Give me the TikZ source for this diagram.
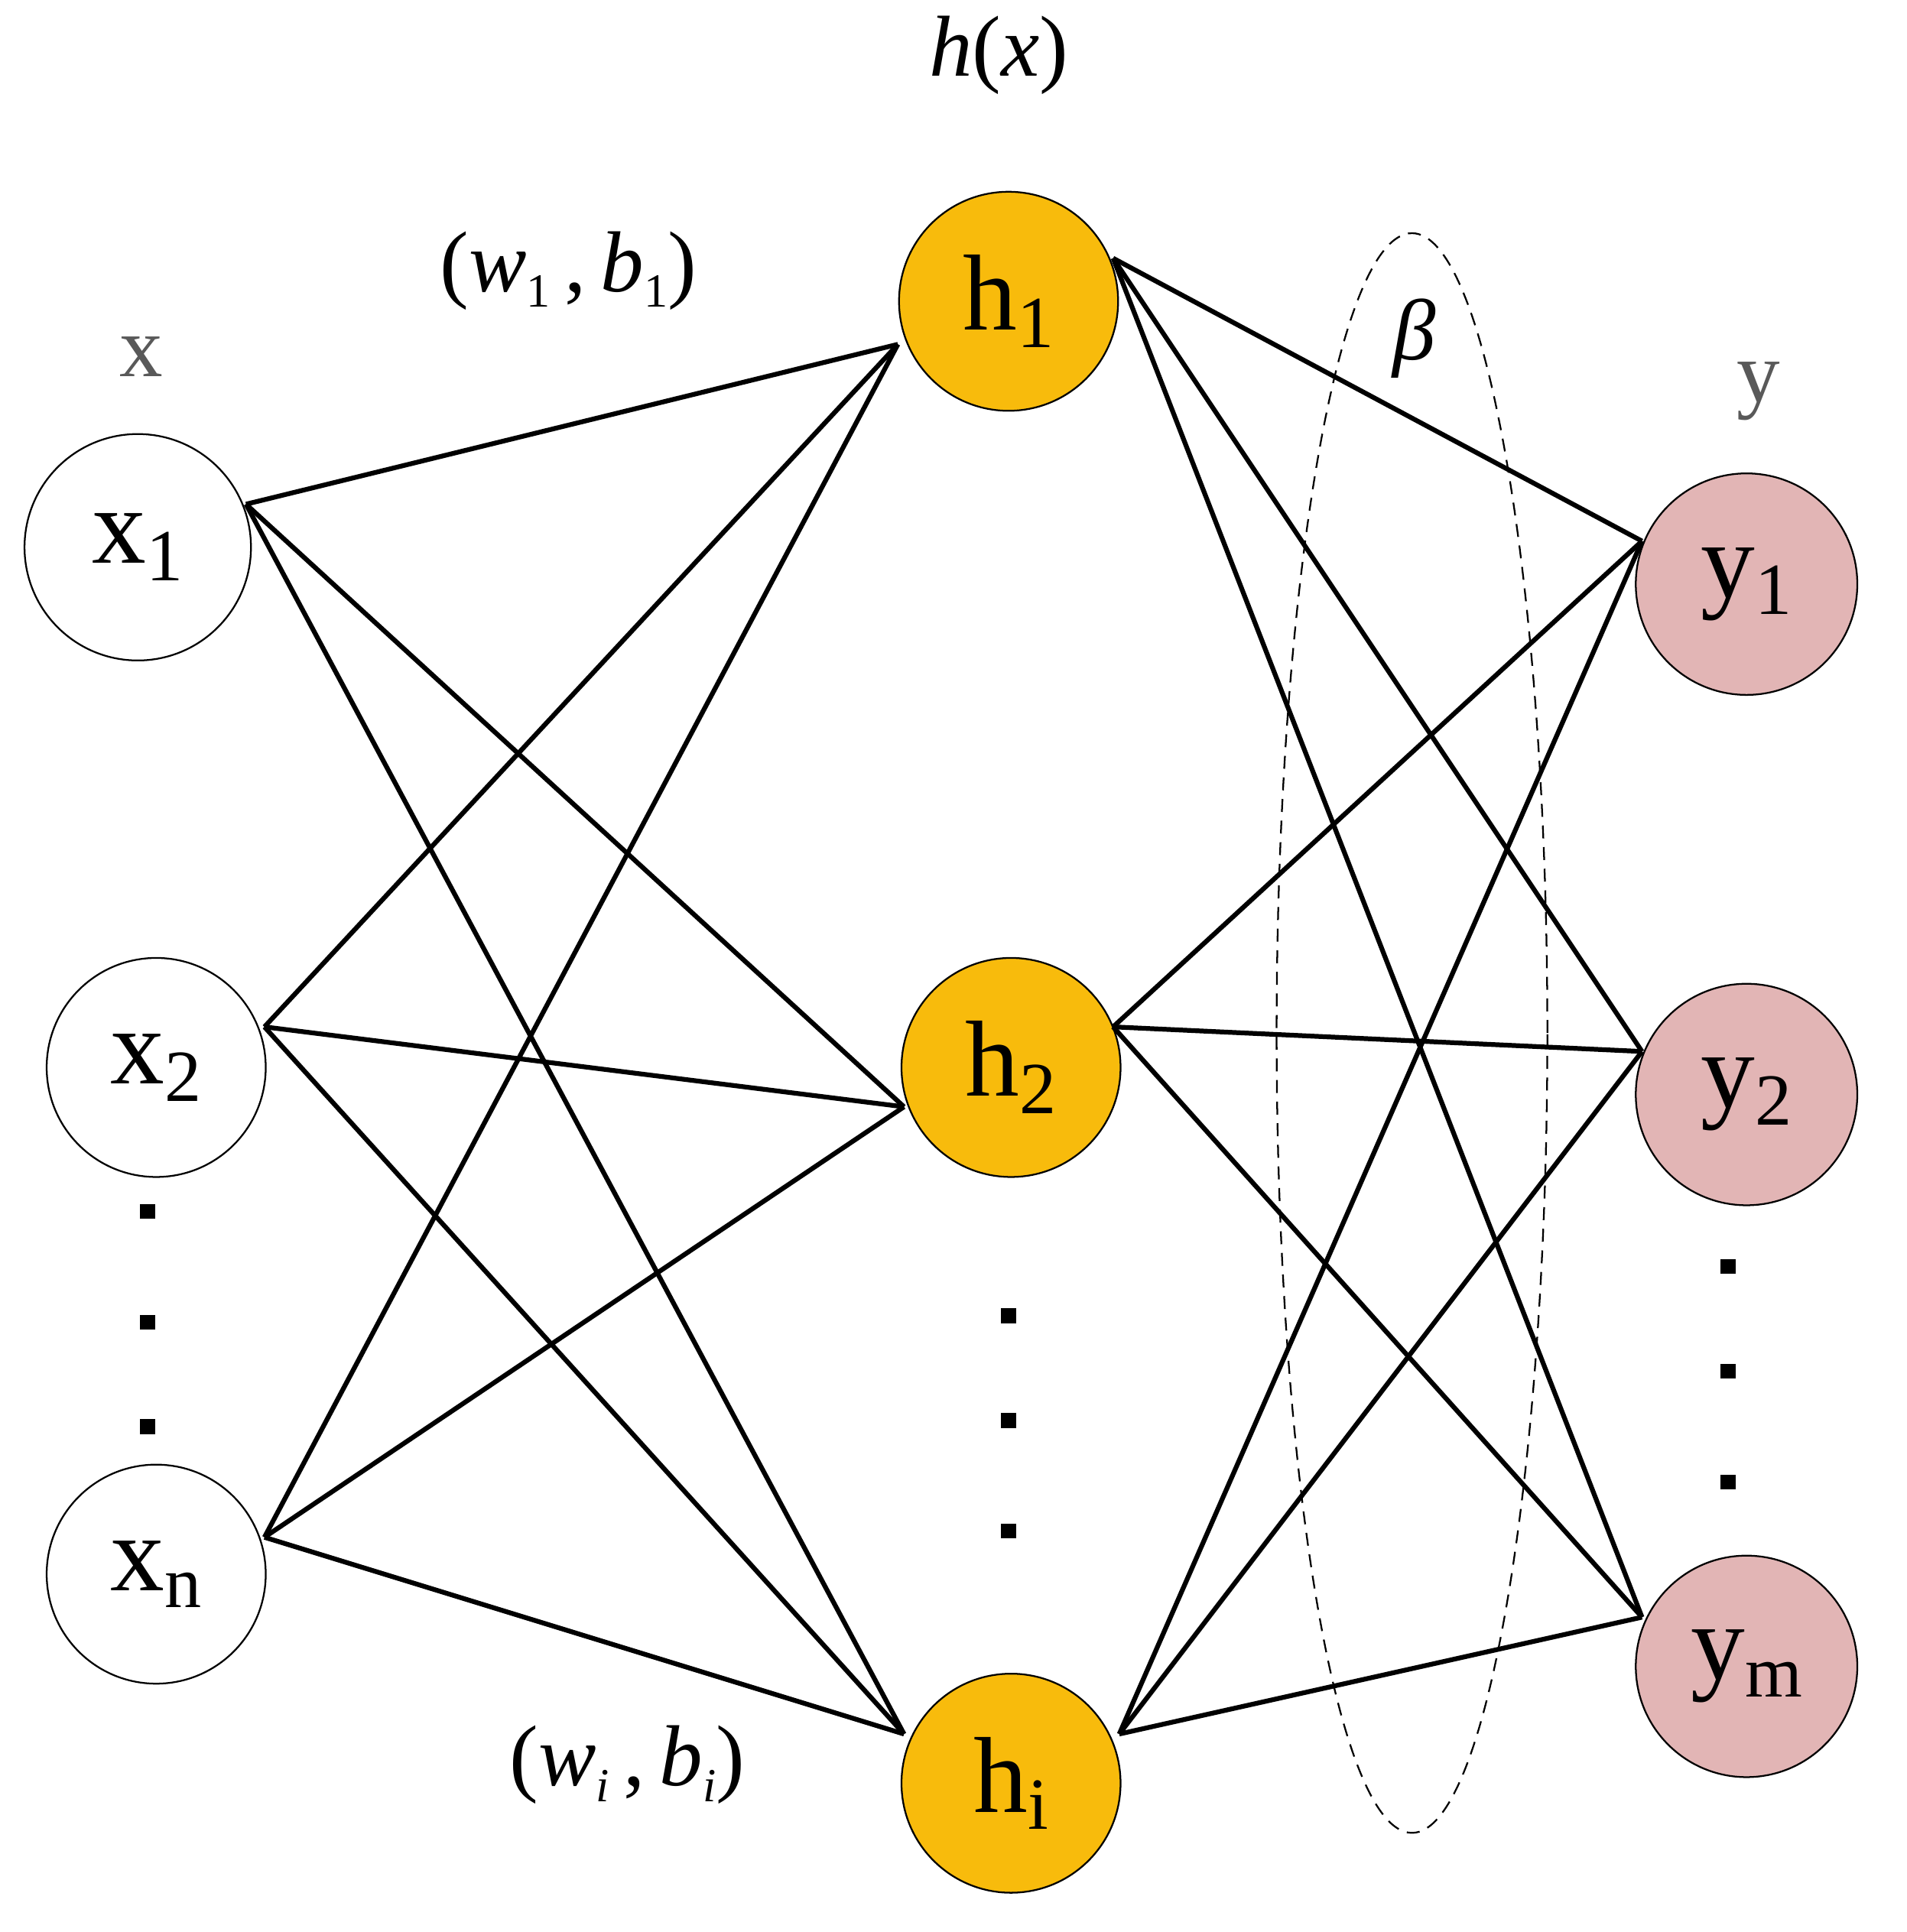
\documentclass[tikz,border=0pt]{standalone}
\usepackage{fontspec}
\setmainfont{Liberation Serif}
\usetikzlibrary{shapes.geometric}
\newcommand{\sbs}[1]{\raisebox{-0.35ex}{\fontsize{17}{18}\selectfont #1}}
\newcommand{\ssb}[1]{\raisebox{-0.4ex}{\fontsize{11}{12}\selectfont #1}}
\begin{document}
\begin{tikzpicture}[x=0.01cm,y=-0.01cm,
 neu/.style={circle,draw,thin,minimum size=#1,inner sep=0pt,font=\fontsize{25}{26}\selectfont},
 lnk/.style={line width=1.1pt},
 dot/.style={fill=black,minimum size=0.12cm,inner sep=0pt,rectangle},
 lab/.style={font=\fontsize{20}{22}\selectfont}]
\useasboundingbox (0,0) rectangle (1550,1571);
\definecolor{hcol}{HTML}{F8BB0C}
\definecolor{ycol}{HTML}{E2B5B5}
\node[neu=1.84cm] (x1) at (112,445) {x\sbs{1}};
\node[neu=1.78cm] (x2) at (127,868) {x\sbs{2}};
\node[neu=1.78cm] (xn) at (127,1280) {x\sbs{n}};
\node[neu=1.78cm,fill=hcol] (h1) at (820,245) {h\sbs{1}};
\node[neu=1.78cm,fill=hcol] (h2) at (822,868) {h\sbs{2}};
\node[neu=1.78cm,fill=hcol] (hi) at (822,1450) {h\sbs{i}};
\node[neu=1.8cm,fill=ycol] (y1) at (1420,475) {y\sbs{1}};
\node[neu=1.8cm,fill=ycol] (y2) at (1420,890) {y\sbs{2}};
\node[neu=1.8cm,fill=ycol] (ym) at (1420,1355) {y\sbs{m}};
\coordinate (a1) at (200,410); \coordinate (a2) at (215,835); \coordinate (an) at (215,1250);
\coordinate (b1) at (730,280); \coordinate (b2) at (735,900); \coordinate (bi) at (735,1410);
\coordinate (c1) at (905,210); \coordinate (c2) at (905,835); \coordinate (ci) at (910,1410);
\coordinate (d1) at (1335,440); \coordinate (d2) at (1335,855); \coordinate (dm) at (1335,1315);
\foreach \s in {a1,a2,an}{\foreach \t in {b1,b2,bi}{\draw[lnk] (\s) -- (\t);}}
\foreach \s in {c1,c2,ci}{\foreach \t in {d1,d2,dm}{\draw[lnk] (\s) -- (\t);}}
\foreach \p/\q in {120/985,120/1075,120/1160,820/1070,820/1155,820/1245,1405/1030,1405/1115,1405/1205}
 {\node[dot] at (\p,\q) {};}
\node[draw,densely dashed,thin,ellipse,minimum width=2.2cm,minimum height=13cm] (beta) at (1148,840) {};
\node[lab] (hx) at (812,45) {\textit{h}(\textit{x})};
\node[lab] (w1) at (462,220) {(\textit{w}\ssb{1}\,,\,\textit{b}\ssb{1})};
\node[lab] (wi) at (510,1435) {(\textit{w}\ssb{\textit{i}}\,,\,\textit{b}\ssb{\textit{i}})};
\node[lab,gray!70!black] (xl) at (115,290) {x};
\node[lab,gray!70!black] (yl) at (1430,318) {y};
\node[lab] (bl) at (1150,275) {\textit{β}};
\end{tikzpicture}
\end{document}
